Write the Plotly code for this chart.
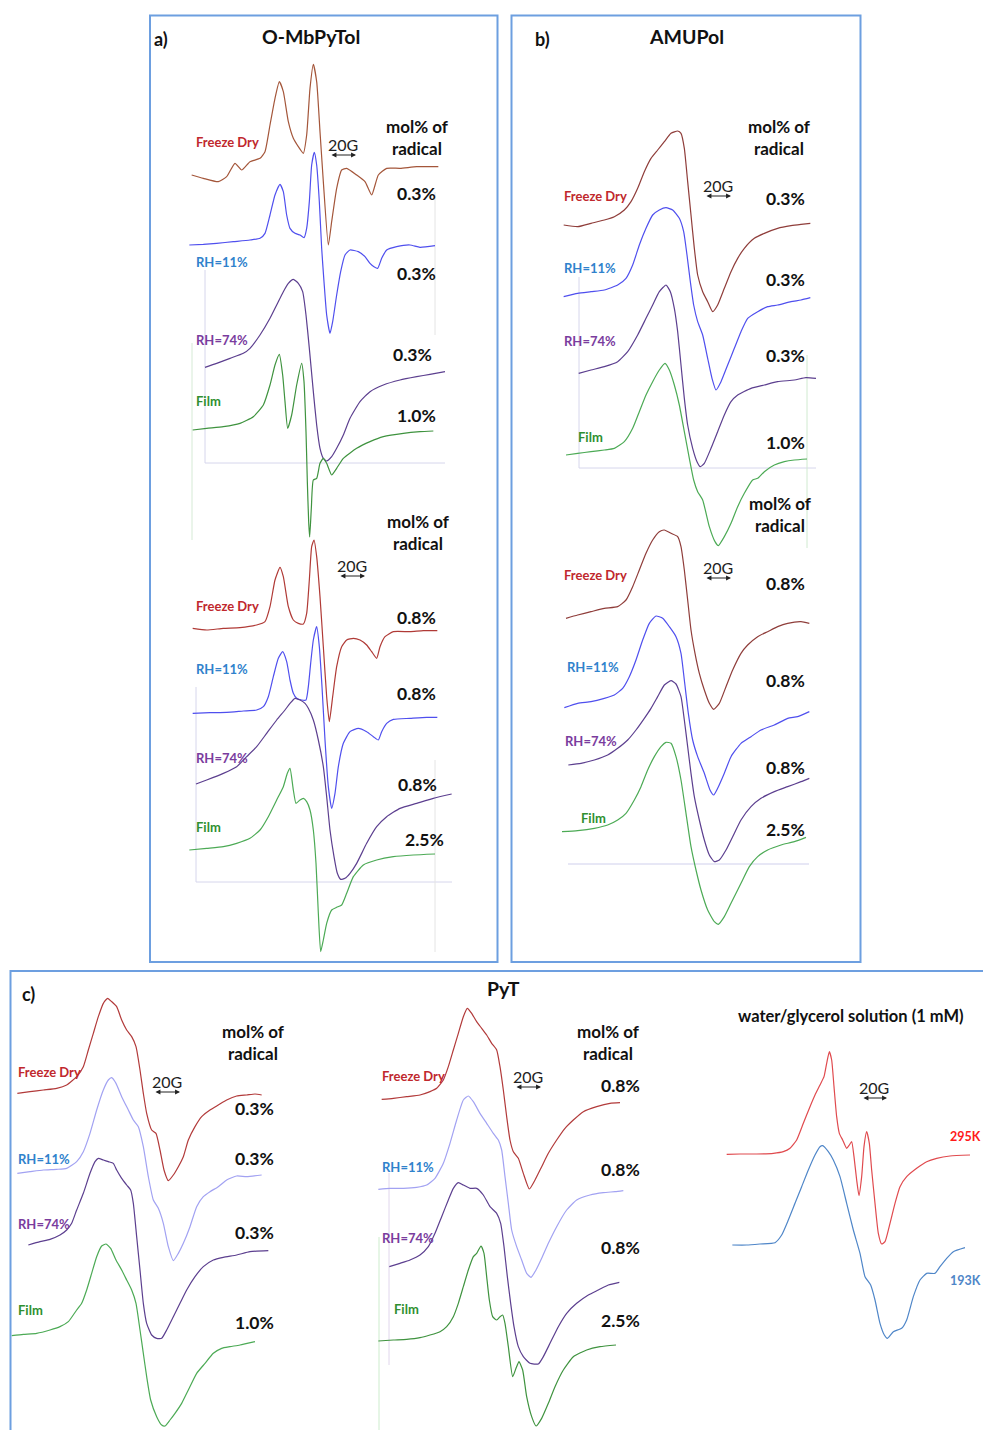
import plotly.graph_objects as go

# ---------------- DATA (field / signal in local a.u. per sub-panel) ----------------
# Panel a) O-MbPyTol, upper set (0.3% / 1.0%)
a1_fd_field = [125,160,205,230,255,275,300,330,345,360,375,388,400,415,430,445,460,470,480,490,500,510,520,535,545,560,575,590,620,645,665,685,710,750,800,865]
a1_fd_signal = [480,490,500,485,445,465,440,430,410,330,250,200,230,320,370,395,415,360,220,148,200,350,500,690,620,520,465,460,480,500,540,480,460,460,455,455]
a1_rh11_field = [118,160,200,250,300,330,345,360,375,390,400,410,420,435,450,462,470,478,485,493,500,508,515,522,530,540,548,560,572,585,600,625,645,660,672,683,695,710,740,780,810,855]
a1_rh11_signal = [690,688,685,680,675,670,655,600,540,508,530,600,640,655,660,668,640,560,450,412,450,560,700,800,900,955,920,840,770,720,705,710,725,745,755,760,730,705,695,690,697,692]
a1_rh74_field = [165,200,240,280,300,330,360,380,400,415,430,445,458,468,478,490,500,510,520,530,545,560,580,600,630,660,700,750,800,840,885]
a1_rh74_signal = [1057,1045,1030,1015,1000,960,910,870,830,805,793,805,830,900,1000,1130,1230,1300,1330,1338,1325,1300,1260,1210,1160,1130,1110,1095,1085,1078,1070]
a1_film_field = [128,170,220,270,310,340,360,375,388,398,405,413,425,440,455,462,468,472,476,479,484,490,500,510,520,530,545,560,580,620,660,700,760,810,850]
a1_film_signal = [1245,1240,1235,1225,1205,1170,1110,1050,1018,1080,1160,1240,1200,1110,1045,1100,1250,1400,1520,1566,1480,1395,1390,1345,1330,1345,1380,1360,1330,1300,1280,1265,1255,1250,1248]

# Panel a) O-MbPyTol, lower set (0.8% / 2.5%)
a2_fd_field = [128,170,220,270,320,345,360,375,390,400,415,430,445,460,470,478,485,492,500,510,520,530,538,548,560,575,590,610,630,650,665,680,690,705,730,780,820,862]
a2_fd_signal = [445,450,445,443,435,425,380,300,262,290,380,420,430,432,400,300,200,180,230,350,500,650,725,650,560,500,480,475,480,495,515,535,500,470,455,455,452,452]
a2_rh11_field = [128,180,230,280,320,340,355,370,385,398,410,420,430,440,455,468,475,482,490,500,508,516,525,535,545,555,565,580,600,625,650,670,685,695,710,730,780,830,862]
a2_rh11_signal = [700,698,697,693,690,680,650,590,535,515,545,600,640,655,660,660,620,550,480,440,500,620,780,920,985,940,860,790,755,745,755,770,780,755,730,718,715,712,712]
a2_rh74_field = [138,170,220,260,290,320,350,380,405,420,435,450,465,475,490,505,520,530,540,552,562,572,585,600,620,650,680,710,750,800,850,905]
a2_rh74_signal = [912,900,880,860,830,800,760,720,690,670,655,660,670,685,720,780,860,950,1050,1130,1180,1198,1195,1180,1150,1090,1040,1010,985,970,955,942]
a2_film_field = [118,170,220,260,300,330,355,380,400,412,420,430,438,450,460,470,480,490,498,505,512,520,530,545,560,575,590,610,640,680,730,790,855]
a2_film_signal = [1110,1105,1100,1090,1075,1050,1010,960,920,880,865,930,970,960,955,965,990,1050,1150,1300,1415,1380,1330,1290,1282,1275,1240,1190,1155,1140,1130,1125,1122]

# Panel b) AMUPol, upper set
b1_fd_field = [158,200,240,280,310,340,360,380,400,420,440,460,480,500,510,520,530,540,550,560,575,590,605,620,640,660,680,700,730,760,800,840,870,898]
b1_fd_signal = [630,635,625,615,605,585,560,520,470,430,405,380,355,348,355,400,500,600,700,780,830,860,890,870,820,770,730,700,670,655,640,632,628,625]
b1_rh11_field = [158,200,240,280,320,345,365,385,405,425,445,465,485,505,518,528,538,548,560,575,590,603,615,630,650,670,690,710,740,770,800,840,870,898]
b1_rh11_signal = [845,835,830,825,810,790,750,690,640,600,585,578,585,610,650,720,800,870,920,960,1030,1090,1125,1100,1050,1000,950,910,890,875,870,860,855,848]
b1_rh74_field = [203,240,280,320,350,380,405,425,445,465,478,490,500,510,520,530,545,558,568,580,600,620,640,660,680,720,760,800,850,885,915]
b1_rh74_signal = [1075,1065,1055,1040,1010,960,910,870,830,810,830,880,950,1050,1150,1230,1300,1340,1355,1345,1300,1250,1200,1160,1140,1120,1110,1100,1095,1088,1090]
b1_film_field = [165,200,240,280,310,340,365,385,405,425,445,462,475,490,505,520,535,548,560,575,595,612,622,640,660,680,700,725,740,760,790,820,850,888]
b1_film_signal = [1320,1315,1310,1305,1300,1280,1240,1190,1140,1100,1065,1045,1065,1110,1170,1250,1330,1395,1430,1455,1535,1580,1592,1565,1525,1475,1435,1395,1390,1370,1350,1340,1335,1332]

# Panel b) AMUPol, lower set
b2_fd_field = [165,200,240,280,320,345,365,385,405,425,445,460,480,500,510,520,530,540,552,565,580,595,608,625,645,665,690,710,740,770,800,830,870,895]
b2_fd_signal = [415,405,395,385,380,360,320,270,220,180,155,150,160,170,200,270,360,450,520,580,630,670,688,670,620,570,520,495,470,455,440,430,425,430]
b2_rh11_field = [160,200,240,280,310,335,355,375,395,415,435,455,475,495,510,520,532,545,560,580,597,608,620,640,660,690,720,750,790,830,860,895]
b2_rh11_signal = [683,670,665,655,645,625,590,540,480,430,408,415,440,470,520,600,700,780,830,880,930,945,925,880,830,790,770,750,735,715,710,695]
b2_rh74_field = [172,210,250,290,320,350,375,400,420,440,460,480,495,510,520,530,540,550,565,580,595,610,625,645,665,690,720,750,790,830,870,895]
b2_rh74_signal = [855,850,840,825,805,780,750,715,685,650,615,602,612,650,720,800,880,950,1020,1080,1125,1145,1140,1110,1070,1020,980,955,935,920,905,895]
b2_film_field = [153,200,250,290,320,345,370,390,410,430,450,465,480,495,510,525,540,555,570,590,610,622,640,660,690,715,740,770,810,850,885]
b2_film_signal = [1055,1052,1045,1035,1020,1000,960,920,870,830,800,787,790,830,900,1000,1100,1170,1230,1290,1325,1333,1310,1270,1210,1160,1130,1110,1095,1085,1072]

# Panel c) PyT, left set (0.3% / 1.0%)
c1_fd_field = [22,60,100,140,170,200,220,235,250,265,280,293,305,320,335,350,365,378,390,400,410,425,438,450,462,475,490,505,520,535,555,575,600,625,650,680,710,735,755]
c1_fd_signal = [370,365,360,355,345,320,290,240,190,140,100,85,95,110,150,180,200,230,300,370,430,480,490,540,600,632,615,590,560,510,470,440,420,405,390,378,375,372,375]
c1_rh11_field = [22,60,100,140,170,200,220,240,260,280,295,305,318,335,355,370,385,400,415,430,445,460,475,490,505,520,540,560,580,600,625,650,680,710,755]
c1_rh11_signal = [610,605,600,598,595,575,545,490,420,360,330,323,340,380,420,450,470,530,620,690,715,760,830,872,850,820,770,710,680,665,650,630,618,620,615]
c1_rh74_field = [55,90,120,150,170,185,200,220,240,255,265,280,295,310,320,335,350,362,370,380,390,400,410,425,440,455,470,490,510,530,555,580,610,640,680,720,775]
c1_rh74_signal = [825,815,808,795,780,760,720,670,610,575,565,570,575,580,600,625,645,660,700,800,900,1000,1060,1095,1105,1105,1080,1040,1000,960,920,890,870,862,855,845,842]
c1_film_field = [5,40,80,120,150,175,200,215,230,245,260,275,288,302,318,335,350,365,378,390,400,410,422,440,455,465,480,495,515,535,560,585,610,635,660,690,735]
c1_film_signal = [1097,1093,1090,1080,1070,1055,1020,1000,960,910,860,828,822,835,870,900,930,960,1000,1080,1150,1220,1290,1340,1365,1368,1350,1330,1300,1260,1210,1180,1150,1135,1130,1125,1115]

# Panel c) PyT, middle set (0.8% / 2.5%)
c2_fd_field = [155,190,230,270,300,320,340,355,370,385,400,412,425,440,455,470,485,500,510,520,530,540,550,565,580,598,615,635,655,680,705,730,760,800,840,870]
c2_fd_signal = [388,385,380,375,365,355,330,290,240,190,140,115,130,155,175,195,220,240,290,360,440,510,545,565,610,657,630,590,550,510,475,450,425,410,400,398]
c2_rh11_field = [145,180,220,260,290,315,340,360,380,400,415,430,450,470,490,505,515,525,535,545,560,575,590,603,618,635,655,680,710,740,780,820,855,880]
c2_rh11_signal = [658,655,655,652,645,625,580,520,450,390,378,395,430,460,490,510,540,620,700,780,830,870,910,922,900,865,820,770,720,690,675,668,665,662]
c2_rh74_field = [178,210,240,270,295,315,335,355,370,385,400,420,440,460,480,500,512,522,532,542,552,565,580,600,625,640,660,685,710,740,775,805,835,868]
c2_rh74_signal = [890,880,870,855,830,790,740,690,655,638,645,655,655,675,710,730,760,830,920,1000,1070,1130,1160,1180,1182,1160,1120,1070,1030,1000,975,960,945,937]
c2_film_field = [145,190,230,270,300,330,350,370,385,400,415,430,440,453,462,470,478,488,500,510,518,525,535,548,558,567,578,590,605,618,635,655,675,700,730,770,810,858]
c2_film_signal = [1113,1110,1108,1103,1095,1085,1070,1040,1000,950,900,860,850,828,850,920,990,1040,1050,1040,1035,1060,1130,1220,1195,1175,1200,1280,1340,1368,1345,1300,1250,1200,1160,1140,1130,1125]

# Panel c) water/glycerol solution (1 mM)
c3_295_field = [80,120,170,220,250,270,290,310,330,345,360,372,380,388,395,402,410,418,428,440,448,455,462,470,477,485,492,500,508,515,525,535,545,555,570,585,600,620,650,680,710,750,810]
c3_295_signal = [553,552,552,550,545,535,510,460,410,375,345,320,280,245,270,350,440,490,510,535,525,515,560,630,677,620,530,485,520,600,700,790,822,815,760,700,650,620,595,575,565,558,555]
c3_193_field = [97,140,180,225,245,265,285,305,325,345,360,368,385,400,420,440,460,480,495,512,525,540,553,562,580,605,620,640,660,680,705,720,740,760,795]
c3_193_signal = [825,825,822,818,795,750,700,650,600,555,530,527,545,570,620,700,780,850,920,945,990,1060,1095,1105,1085,1075,1050,980,930,910,910,890,865,845,833]

mol_labels_a1 = ["0.3%", "0.3%", "0.3%", "1.0%"]
mol_labels_a2 = ["0.8%", "0.8%", "0.8%", "2.5%"]
mol_labels_b1 = ["0.3%", "0.3%", "0.3%", "1.0%"]
mol_labels_b2 = ["0.8%", "0.8%", "0.8%", "2.5%"]
mol_labels_c1 = ["0.3%", "0.3%", "0.3%", "1.0%"]
mol_labels_c2 = ["0.8%", "0.8%", "0.8%", "2.5%"]
sample_labels = ["Freeze Dry", "RH=11%", "RH=74%", "Film"]
temp_labels = ["295K", "193K"]

# ---------------- STYLE / LAYOUT ----------------
W, H = 983, 1430
FONT = "Lato, 'Open Sans', sans-serif"
BOX = "#6d9fe0"

# sub-panel origins (canvas px); local units are 1/3 px
origins = {"a1": (150, 15), "a2": (150, 480), "b1": (511, 15), "b2": (511, 480),
           "c1": (10, 970), "c2": (330, 970), "c3": (700, 970)}

C_FD_A1 = "#a4563a"; C_FD_A2 = "#b03a36"; C_FD_B = "#8f3d3a"; C_FD_C = "#b23a3a"
C_BLUE = "#4f4fee"; C_LAV = "#a2a2f2"; C_PURP = "#5c3f8f"; C_GREEN = "#3f933f"; C_GREEN_C = "#4caa55"

curves = [
    ("a1", a1_fd_field, a1_fd_signal, C_FD_A1), ("a1", a1_rh11_field, a1_rh11_signal, C_BLUE),
    ("a1", a1_rh74_field, a1_rh74_signal, C_PURP), ("a1", a1_film_field, a1_film_signal, C_GREEN),
    ("a2", a2_fd_field, a2_fd_signal, C_FD_A2), ("a2", a2_rh11_field, a2_rh11_signal, C_BLUE),
    ("a2", a2_rh74_field, a2_rh74_signal, C_PURP), ("a2", a2_film_field, a2_film_signal, C_GREEN_C),
    ("b1", b1_fd_field, b1_fd_signal, C_FD_B), ("b1", b1_rh11_field, b1_rh11_signal, C_BLUE),
    ("b1", b1_rh74_field, b1_rh74_signal, C_PURP), ("b1", b1_film_field, b1_film_signal, C_GREEN_C),
    ("b2", b2_fd_field, b2_fd_signal, C_FD_B), ("b2", b2_rh11_field, b2_rh11_signal, C_BLUE),
    ("b2", b2_rh74_field, b2_rh74_signal, C_PURP), ("b2", b2_film_field, b2_film_signal, C_GREEN_C),
    ("c1", c1_fd_field, c1_fd_signal, C_FD_C), ("c1", c1_rh11_field, c1_rh11_signal, C_LAV),
    ("c1", c1_rh74_field, c1_rh74_signal, C_PURP), ("c1", c1_film_field, c1_film_signal, C_GREEN_C),
    ("c2", c2_fd_field, c2_fd_signal, C_FD_C), ("c2", c2_rh11_field, c2_rh11_signal, C_LAV),
    ("c2", c2_rh74_field, c2_rh74_signal, C_PURP), ("c2", c2_film_field, c2_film_signal, C_GREEN),
    ("c3", c3_295_field, c3_295_signal, "#e04a4e"), ("c3", c3_193_field, c3_193_signal, "#4f86c8"),
]

fig = go.Figure()

# faint leftover plot-area lines (behind the spectra)
faint = [
    (205, 270, 205, 463, "#d6d6ec"), (205, 463, 445, 463, "#d6d6ec"), (192, 343, 192, 540, "#d5ead5"),
    (435, 192, 435, 335, "#e4e4e4"), (196, 687, 196, 882, "#d6d6ec"), (196, 882, 452, 882, "#d6d6ec"),
    (435, 760, 435, 952, "#e4e4e4"), (579, 277, 579, 468, "#d6d6ec"), (579, 468, 816, 468, "#d6d6ec"),
    (807, 355, 807, 548, "#d0ead0"), (568, 864, 809, 864, "#cfcfec"), (379, 1237, 379, 1430, "#cdeccd"),
    (389, 1173, 389, 1365, "#e0d6ec"),
]
for x0, y0, x1, y1, col in faint:
    fig.add_shape(type="line", x0=x0, y0=y0, x1=x1, y1=y1, line=dict(color=col, width=1), layer="below")

for key, f, s, col in curves:
    ox, oy = origins[key]
    fig.add_trace(go.Scatter(x=[ox + v / 3 for v in f], y=[oy + v / 3 for v in s], mode="lines",
                             line=dict(color=col, width=1.2, shape="spline", smoothing=0.5),
                             hoverinfo="skip", showlegend=False))

# panel frames
fig.add_shape(type="rect", x0=150, y0=15.5, x1=497.5, y1=962, line=dict(color=BOX, width=2))
fig.add_shape(type="rect", x0=511.5, y0=15.5, x1=860.5, y1=962, line=dict(color=BOX, width=2))
fig.add_shape(type="rect", x0=10.5, y0=971, x1=995, y1=1445, line=dict(color=BOX, width=2))

def txt(x, y, s, size=16, color="#111111", bold=True, anchor="center"):
    fig.add_annotation(x=x, y=y, text=("<b>%s</b>" % s) if bold else s, showarrow=False,
                       xanchor=anchor, yanchor="middle",
                       font=dict(family=FONT, size=size, color=color))

# titles
txt(152, 39, "a)", 18, anchor="left"); txt(311, 36, "O-MbPyTol", 19.5)
txt(533, 39, "b)", 18, anchor="left"); txt(686, 36, "AMUPol", 19.5)
txt(20, 994, "c)", 18, anchor="left"); txt(503, 988, "PyT", 19.5)
txt(851, 1016, "water/glycerol solution (1 mM)", 16.5)

LAB_COL = ["#c0282d", "#2f82cc", "#7a3c9e", "#2f8f2f"]

def group(mol_xy, labels, lab_xy, pct_xy, scale_xy):
    txt(mol_xy[0], mol_xy[1], "mol% of", 17)
    txt(mol_xy[0], mol_xy[1] + 22, "radical", 17)
    for (lx, ly), lab, col in zip(lab_xy, sample_labels, LAB_COL):
        txt(lx, ly, lab, 13, col, anchor="left")
    for (px, py), p in zip(pct_xy, labels):
        txt(px, py, p, 17.5)
    sx, sy = scale_xy
    txt(sx, sy, "20G", 16, "#222222", bold=False)
    fig.add_annotation(x=sx + 13, y=sy + 11, ax=sx - 13, ay=sy + 11, axref="x", ayref="y", xref="x", yref="y",
                       showarrow=True, arrowhead=2, arrowside="end+start", arrowsize=0.9, arrowwidth=1.1,
                       arrowcolor="#222222", text="")

group((417, 126), mol_labels_a1, [(194, 142), (194, 262), (194, 340), (194, 401)],
      [(416, 193), (416, 273), (412, 354), (416, 415)], (343, 144))
group((418, 521), mol_labels_a2, [(194, 606), (194, 669), (194, 758), (194, 827)],
      [(416, 617), (416, 693), (417, 784), (424, 839)], (352, 565))
group((779, 126), mol_labels_b1, [(562, 196), (562, 268), (562, 341), (576, 437)],
      [(785, 198), (785, 279), (785, 355), (785, 442)], (718, 185))
group((780, 503), mol_labels_b2, [(562, 575), (565, 667), (563, 741), (579, 818)],
      [(785, 583), (785, 680), (785, 767), (785, 829)], (718, 567))
group((253, 1031), mol_labels_c1, [(16, 1072), (16, 1159), (16, 1224), (16, 1310)],
      [(254, 1108), (254, 1158), (254, 1232), (254, 1322)], (167, 1081))
group((608, 1031), mol_labels_c2, [(380, 1076), (380, 1167), (380, 1238), (392, 1309)],
      [(620, 1085), (620, 1169), (620, 1247), (620, 1320)], (528, 1076))

txt(965, 1136, temp_labels[0], 12.5, "#ff1a1a")
txt(965, 1280, temp_labels[1], 12.5, "#4f86c8")
txt(874, 1087, "20G", 16, "#222222", bold=False)
fig.add_annotation(x=887, y=1098, ax=862, ay=1098, axref="x", ayref="y", xref="x", yref="y",
                   showarrow=True, arrowhead=2, arrowside="end+start", arrowsize=0.9, arrowwidth=1.1,
                   arrowcolor="#222222", text="")

fig.update_layout(width=W, height=H, margin=dict(l=0, r=0, t=0, b=0),
                  paper_bgcolor="white", plot_bgcolor="white", showlegend=False,
                  xaxis=dict(range=[0, W], visible=False, fixedrange=True),
                  yaxis=dict(range=[H, 0], visible=False, fixedrange=True))
fig.write_html("out.html", config={"displayModeBar": False},
               post_script="document.body.style.margin='0';document.body.style.overflow='hidden';")
